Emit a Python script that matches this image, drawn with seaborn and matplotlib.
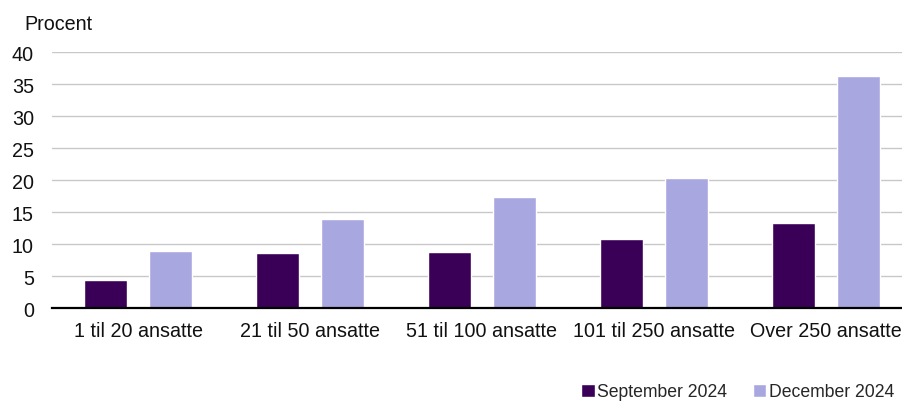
import pandas as pd
import seaborn as sns
import matplotlib
matplotlib.use('Agg')
import matplotlib.pyplot as plt

# data
categories = ['1 til 20 ansatte', '21 til 50 ansatte', '51 til 100 ansatte',
              '101 til 250 ansatte', 'Over 250 ansatte']
series = ['September 2024', 'December 2024']
sep_2024 = [4.5, 8.7, 8.8, 10.9, 13.3]
dec_2024 = [9.0, 13.9, 17.4, 20.3, 36.3]
colors = ['#3a0058', '#a9a7e0']

df = pd.DataFrame({
    'kategori': categories * 2,
    'serie': [series[0]] * 5 + [series[1]] * 5,
    'procent': sep_2024 + dec_2024,
})

sns.set_theme(style='white')
plt.rcParams['font.family'] = ['Liberation Sans', 'DejaVu Sans']

fig = plt.figure(figsize=(9.03, 4.02), dpi=100)
ax = fig.add_axes([52 / 903, (402 - 309.3) / 402, 860 / 903, 256 / 402])

sns.barplot(data=df, x='kategori', y='procent', hue='serie', order=categories,
            hue_order=series, palette=colors, width=0.75, gap=1/3,
            saturation=1, ax=ax)

ax.set_xlim(-0.5, 4.5)
ax.set_ylim(0, 40)
ax.set_yticks(range(0, 41, 5))
ax.yaxis.grid(True, color='#c8c8c8', linewidth=1)
ax.set_axisbelow(True)
for s in ['top', 'right', 'left']:
    ax.spines[s].set_visible(False)
ax.spines['bottom'].set_color('black')
ax.spines['bottom'].set_linewidth(1.6)
ax.tick_params(axis='y', length=0, pad=13, labelsize=14.2, colors='#111111')
ax.tick_params(axis='x', length=0, pad=9, labelsize=14.2, colors='#111111')
ax.set_xlabel('')
ax.set_ylabel('')

fig.text(24 / 903, 1 - 25 / 402, 'Procent', fontsize=14.2, va='center', ha='left',
         color='#111111')

handles, labels = ax.get_legend_handles_labels()
ax.legend_.remove()
fig.legend(handles, labels, loc='center right', bbox_to_anchor=(894 / 903, 1 - 393 / 402),
           ncol=2, frameon=False, fontsize=12.7, handlelength=0.75, handleheight=0.75,
           handletextpad=0.15, columnspacing=1.45, borderaxespad=0, borderpad=0)

fig.savefig('out.png', dpi=100)
